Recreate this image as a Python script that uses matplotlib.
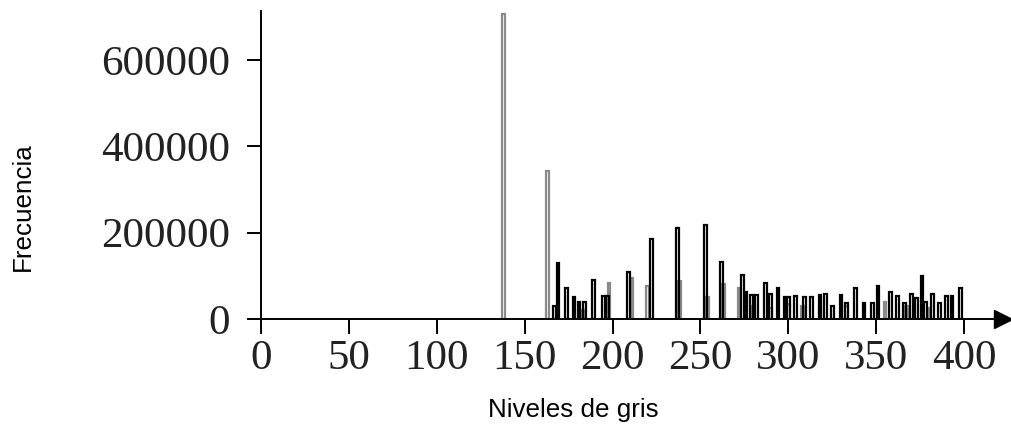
import matplotlib.pyplot as plt

# histograma de niveles de gris (dos series superpuestas)
gris_x = [138, 163, 183, 198, 211, 220, 238, 254, 263, 272, 280, 290, 300, 308, 318, 333, 355, 367, 380]
gris_y = [708000, 343000, 20000, 83000, 95000, 76000, 88000, 52000, 80000, 72000, 30000,
          25000, 35000, 30000, 25000, 30000, 40000, 30000, 25000]

negro_x = [167, 169, 174, 178, 181, 184, 189, 195, 197, 209, 222, 237, 253, 262, 274, 276,
           279, 282, 287, 290, 294, 298, 300, 304, 309, 313, 318, 321, 325, 330, 333, 338,
           343, 348, 351, 358, 362, 366, 370, 373, 376, 378, 382, 386, 390, 393, 398]
negro_y = [30000, 130000, 72000, 52000, 40000, 40000, 90000, 53000, 53000, 110000, 185000,
           212000, 218000, 133000, 102000, 62000, 55000, 55000, 83000, 58000, 72000, 51000,
           51000, 53000, 52000, 52000, 55000, 59000, 30000, 55000, 38000, 71000, 37000,
           38000, 76000, 62000, 54000, 36000, 59000, 48000, 100000, 39000, 58000, 36000,
           53000, 53000, 71000]

xticks = [0, 50, 100, 150, 200, 250, 300, 350, 400]
yticks = [0, 200000, 400000, 600000]

plt.rcParams['font.family'] = 'Liberation Serif'

fig = plt.figure(figsize=(10.11, 4.43), dpi=100)
ax = fig.add_axes([0.258, 0.28, 0.734, 0.695])
ax.spines['bottom'].set_position(('data', 0))

ax.bar(gris_x, gris_y, width=1.5, fill=False, edgecolor='#8a8a8a', linewidth=1.6)
ax.bar(negro_x, negro_y, width=1.5, fill=False, edgecolor='black', linewidth=1.6)

ax.set_xlim(0, 422)
ax.set_ylim(0, 714000)
ax.set_xticks(xticks)
ax.set_yticks(yticks)
ax.tick_params(axis='both', labelsize=31, labelcolor='#222222')
ax.tick_params(axis='x', direction='out', length=11, width=1.4, pad=4)
ax.tick_params(axis='y', direction='out', length=10, width=1.4, pad=12)

for s in ['top', 'right']:
    ax.spines[s].set_visible(False)
ax.spines['left'].set_linewidth(1.4)
ax.spines['bottom'].set_linewidth(1.4)
ax.plot([1.0], [0], marker='>', color='black', markersize=13, transform=ax.transAxes, clip_on=False)

fig.text(0.567, 0.075, 'Niveles de gris', ha='center', va='center', family='Liberation Sans', fontsize=18.7)
fig.text(0.023, 0.533, 'Frecuencia', ha='center', va='center', rotation=90, family='Liberation Sans', fontsize=18.7)

fig.savefig('out.png', dpi=100)
